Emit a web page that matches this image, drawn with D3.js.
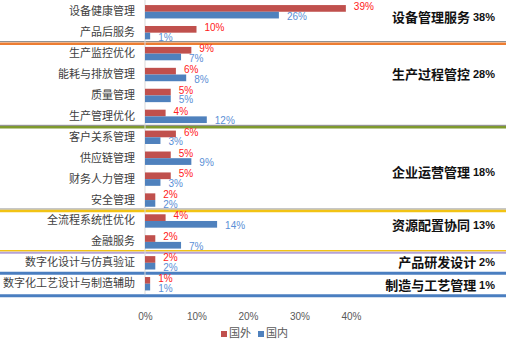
<!DOCTYPE html>
<html>
<head>
<meta charset="utf-8">
<script src="https://cdn.jsdelivr.net/npm/d3@7"></script>
<style>
  html, body { margin: 0; padding: 0; background: #fff; }
  svg { display: block; }
</style>
</head>
<body>
<svg id="chart" width="506" height="341"></svg>
<script>
// ---------- data ----------
const categories = ["设备健康管理", "产品后服务", "生产监控优化", "能耗与排放管理", "质量管理", "生产管理优化",
  "客户关系管理", "供应链管理", "财务人力管理", "安全管理", "全流程系统性优化", "金融服务",
  "数字化设计与仿真验证", "数字化工艺设计与制造辅助"];
const foreign  = [39, 10, 9, 6, 5, 4, 6, 5, 5, 2, 4, 2, 2, 1];   // 国外
const domestic = [26, 1, 7, 8, 5, 12, 3, 9, 3, 2, 14, 7, 2, 1];  // 国内
const seriesNames = ["国外", "国内"];
const groupNames  = ["设备管理服务", "生产过程管控", "企业运营管理", "资源配置协同", "产品研发设计", "制造与工艺管理"];
const groupShares = ["38%", "28%", "18%", "13%", "2%", "1%"];
const groupSizes  = [2, 4, 4, 2, 1, 1];
const xTicks = [0, 10, 20, 30, 40];

// ---------- layout ----------
const W = 506, H = 341;
const svg = d3.select("#chart");
const x = d3.scaleLinear().domain([0, 40]).range([145, 351]);
const yBand = d3.scaleBand().domain(categories).range([1.3, 294.2]).paddingInner(0.36).paddingOuter(0.18);
const ySub = d3.scaleBand().domain(seriesNames).range([0, yBand.bandwidth()]);
const colors = { "国外": "#C0504D", "国内": "#4F81BD" };
const labelColors = { "国外": "#FF2020", "国内": "#5B8FD6" };
const step = yBand.step();
const rowCenter = i => yBand(categories[i]) + yBand.bandwidth() / 2;

// separators (group boundaries)
const sepStyles = [
  [{ dy: -1.5, c: "#7f7f7f", w: 1 }, { dy: 0.5, c: "#ED7D31", w: 2.5 }],
  [{ dy: -1.5, c: "#7f7f7f", w: 1 }, { dy: 0.5, c: "#7F9A2E", w: 2.5 }],
  [{ dy: -1.5, c: "#8f8f8f", w: 1 }, { dy: 0.5, c: "#F2C314", w: 2.5 }],
  [{ dy: -1.5, c: "#F2C314", w: 1.5 }, { dy: 0.5, c: "#B4A2D8", w: 2 }],
  [{ dy: 0, c: "#4A7EC0", w: 3 }],
  [{ dy: 1.5, c: "#4A7EC0", w: 3 }]
];
let idx = 0;
const groupRanges = [];
groupSizes.forEach((n, g) => {
  const start = idx, end = idx + n - 1;
  groupRanges.push([start, end]);
  idx += n;
  const yb = rowCenter(end) + step / 2;
  sepStyles[g].forEach(s => {
    svg.append("line").attr("x1", 0).attr("x2", W)
      .attr("y1", yb + s.dy).attr("y2", yb + s.dy)
      .attr("stroke", s.c).attr("stroke-width", s.w);
  });
});

// axis line
svg.append("line").attr("x1", x(0)).attr("x2", x(0))
  .attr("y1", 0).attr("y2", rowCenter(categories.length - 1) + step / 2)
  .attr("stroke", "#d9d9d9").attr("stroke-width", 1);

// bars
const rows = categories.map((c, i) => ({ c, vals: [{ s: "国外", v: foreign[i] }, { s: "国内", v: domestic[i] }] }));
const rowG = svg.selectAll("g.row").data(rows).join("g")
  .attr("class", "row").attr("transform", d => `translate(0,${yBand(d.c)})`);
rowG.selectAll("rect").data(d => d.vals).join("rect")
  .attr("x", x(0)).attr("y", d => ySub(d.s))
  .attr("width", d => x(d.v) - x(0)).attr("height", ySub.bandwidth())
  .attr("fill", d => colors[d.s]);
rowG.selectAll("text.val").data(d => d.vals).join("text")
  .attr("class", "val")
  .attr("x", d => x(d.v) + 8)
  .attr("y", d => ySub(d.s) + ySub.bandwidth() / 2 + (d.s === "国外" ? -1 : 2))
  .attr("dominant-baseline", "middle")
  .attr("font-family", "'Liberation Sans', Arial, sans-serif")
  .attr("font-size", 10)
  .attr("fill", d => labelColors[d.s])
  .text(d => d.v + "%");

// category labels
svg.selectAll("text.cat").data(categories).join("text")
  .attr("class", "cat")
  .attr("x", 135).attr("y", (d, i) => rowCenter(i) + 0.5)
  .attr("text-anchor", "end").attr("dominant-baseline", "middle")
  .attr("font-family", "'Noto Sans CJK SC', sans-serif")
  .attr("font-size", 11).attr("fill", "#404040")
  .text(d => d);

// group labels
const groupLabelDy = [-4, -10, 4, -5, 0, 2];
groupNames.forEach((name, g) => {
  const [s, e] = groupRanges[g];
  const cy = (rowCenter(s) + rowCenter(e)) / 2 + groupLabelDy[g];
  const t = svg.append("text")
    .attr("x", 495).attr("y", cy)
    .attr("text-anchor", "end").attr("dominant-baseline", "middle")
    .attr("font-family", "'Noto Sans CJK SC', sans-serif")
    .attr("font-weight", "bold").attr("fill", "#111");
  t.append("tspan").attr("font-size", 13).text(name + " ");
  t.append("tspan").attr("font-size", 11).attr("font-family", "'Liberation Sans', Arial, sans-serif").text(groupShares[g]);
});

// x axis tick labels
const xAxis = d3.axisBottom(x).tickValues(xTicks).tickFormat(d => d + "%").tickSize(0).tickPadding(0);
const ax = svg.append("g").attr("transform", "translate(0,313)").call(xAxis);
ax.select(".domain").remove();
ax.selectAll("text").attr("font-family", "'Liberation Sans', Arial, sans-serif")
  .attr("font-size", 10).attr("fill", "#595959");

// legend
const legend = svg.append("g").attr("transform", "translate(221,334)");
seriesNames.forEach((s, i) => {
  const g = legend.append("g").attr("transform", `translate(${i * 37},0)`);
  g.append("rect").attr("x", 0).attr("y", -3).attr("width", 6).attr("height", 6).attr("fill", colors[s]);
  g.append("text").attr("x", 8).attr("y", 0).attr("dominant-baseline", "middle")
    .attr("font-family", "'Noto Sans CJK SC', sans-serif")
    .attr("font-size", 11).attr("fill", "#595959").text(s);
});
</script>
</body>
</html>
